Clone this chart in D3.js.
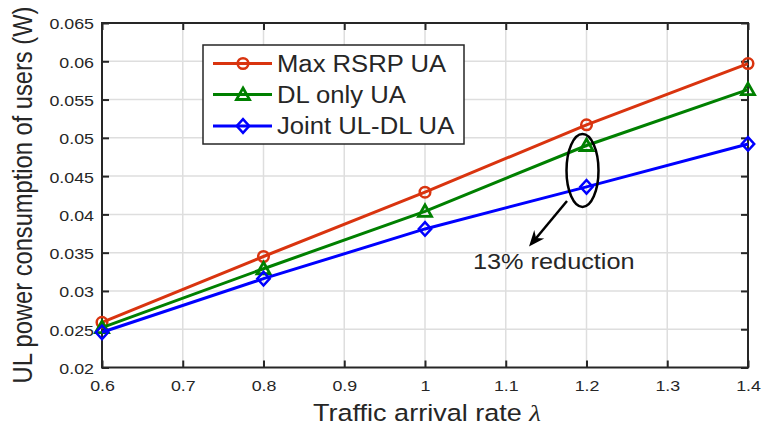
<!DOCTYPE html>
<html><head><meta charset="utf-8">
<script src="https://cdn.jsdelivr.net/npm/d3@7"></script>
<style>body{margin:0;background:#fff}svg{display:block}text{font-family:"Liberation Sans",Arial,sans-serif;fill:#262626}</style>
</head><body><svg id="c" width="763" height="429"></svg>
<script>
const lambdas = [0.6, 0.8, 1.0, 1.2, 1.4];
const maxRsrp = [0.0259, 0.0345, 0.0429, 0.0517, 0.0597];
const dlOnly  = [0.0252, 0.0329, 0.0404, 0.0490, 0.0563];
const jointUD = [0.0246, 0.0316, 0.0381, 0.0436, 0.0492];
const seriesNames = ["Max RSRP UA", "DL only UA", "Joint UL-DL UA"];
const xTicks = [0.6, 0.7, 0.8, 0.9, 1.0, 1.1, 1.2, 1.3, 1.4];
const yTicks = [0.02, 0.025, 0.03, 0.035, 0.04, 0.045, 0.05, 0.055, 0.06, 0.065];
const xTickLabels = ["0.6","0.7","0.8","0.9","1","1.1","1.2","1.3","1.4"];
const yTickLabels = ["0.02","0.025","0.03","0.035","0.04","0.045","0.05","0.055","0.06","0.065"];

const colors = ["#d9340f", "#008000", "#0000ff"];
const markers = ["circle", "triangle", "diamond"];
const S = 1.15; // horizontal text stretch

const svg = d3.select("#c");
const L = 102, R = 748, T = 23, B = 367.5;
const x = d3.scaleLinear().domain([0.6, 1.4]).range([L, R]);
const y = d3.scaleLinear().domain([0.02, 0.065]).range([B, T]);

// grid
const grid = svg.append("g").attr("stroke", "#dedede").attr("stroke-width", 1.5);
xTicks.slice(1, -1).forEach(v => grid.append("line").attr("x1", x(v)).attr("x2", x(v)).attr("y1", T).attr("y2", B));
yTicks.slice(1, -1).forEach(v => grid.append("line").attr("y1", y(v)).attr("y2", y(v)).attr("x1", L).attr("x2", R));

// axes
function styleAxis(g) {
  g.selectAll("path.domain").remove();
  g.selectAll("line").attr("stroke", "#262626").attr("stroke-width", 2);
  g.selectAll("text").style("font-size", "15.5px").attr("fill", "#262626");
}
const ax = svg.append("g").attr("transform", `translate(0,${B})`)
  .call(d3.axisBottom(x).tickValues(xTicks).tickFormat((d, i) => xTickLabels[i]).tickSize(-7).tickPadding(0));
styleAxis(ax);
ax.selectAll("text").attr("y", 24).attr("dy", null).attr("transform", `scale(${S},1)`);
const axT = svg.append("g").attr("transform", `translate(0,${T})`)
  .call(d3.axisTop(x).tickValues(xTicks).tickFormat("").tickSize(-7));
styleAxis(axT);
const ay = svg.append("g").attr("transform", `translate(${L},0)`)
  .call(d3.axisLeft(y).tickValues(yTicks).tickFormat((d, i) => yTickLabels[i]).tickSize(-7).tickPadding(0));
styleAxis(ay);
ay.selectAll("text").attr("x", -8 / S).attr("dy", "0.38em").attr("transform", `scale(${S},1)`);
const ayR = svg.append("g").attr("transform", `translate(${R},0)`)
  .call(d3.axisRight(y).tickValues(yTicks).tickFormat("").tickSize(-7));
styleAxis(ayR);
svg.append("rect").attr("x", L).attr("y", T).attr("width", R - L).attr("height", B - T)
  .attr("fill", "none").attr("stroke", "#262626").attr("stroke-width", 2);

// marker drawing
function drawMarker(g, type, cx, cy, color) {
  if (type === "circle") {
    g.append("circle").attr("cx", cx).attr("cy", cy).attr("r", 5.3)
      .attr("fill", "none").attr("stroke", color).attr("stroke-width", 2.5);
  } else if (type === "triangle") {
    g.append("path").attr("d", `M${cx},${cy - 6.5}L${cx + 6.5},${cy + 5}L${cx - 6.5},${cy + 5}Z`)
      .attr("fill", "none").attr("stroke", color).attr("stroke-width", 2.8).attr("stroke-linejoin", "miter");
  } else {
    g.append("path").attr("d", `M${cx},${cy - 6.8}L${cx + 6.2},${cy}L${cx},${cy + 6.8}L${cx - 6.2},${cy}Z`)
      .attr("fill", "none").attr("stroke", color).attr("stroke-width", 2.5);
  }
}

// series
const allSeries = [maxRsrp, dlOnly, jointUD];
const line = d3.line().x((d, i) => x(lambdas[i])).y(d => y(d));
allSeries.forEach((vals, k) => {
  const g = svg.append("g");
  g.append("path").attr("d", line(vals)).attr("fill", "none")
    .attr("stroke", colors[k]).attr("stroke-width", 3);
  vals.forEach((v, i) => drawMarker(g, markers[k], x(lambdas[i]), y(v), colors[k]));
});

// legend
const lg = svg.append("g");
lg.append("rect").attr("x", 203).attr("y", 45).attr("width", 261).attr("height", 99)
  .attr("fill", "#fff").attr("stroke", "#262626").attr("stroke-width", 1.5);
const rowY = [63.5, 94.5, 126];
seriesNames.forEach((name, k) => {
  lg.append("line").attr("x1", 213).attr("x2", 272).attr("y1", rowY[k]).attr("y2", rowY[k])
    .attr("stroke", colors[k]).attr("stroke-width", 3);
  drawMarker(lg, markers[k], 243, rowY[k], colors[k]);
  lg.append("text").attr("transform", `translate(277,${rowY[k] + 8.3}) scale(${S * 0.97},1)`)
    .style("font-size", "23px").attr("fill", "#000").text(name);
});

// axis labels
const xl = svg.append("text").attr("transform", `translate(427,421) scale(${S},1)`)
  .attr("text-anchor", "middle").style("font-size", "23.5px");
xl.append("tspan").text("Traffic arrival rate ");
xl.append("tspan").style("font-family", "'Liberation Serif',serif").style("font-style", "italic").text("λ");
svg.append("text").attr("transform", `translate(31.5,195) rotate(-90) scale(1,${S})`)
  .attr("text-anchor", "middle").style("font-size", "23.7px").text("UL power consumption of users (W)");

// annotation
svg.append("ellipse").attr("cx", x(1.2) - 4).attr("cy", 170.5).attr("rx", 16).attr("ry", 36.5)
  .attr("fill", "none").attr("stroke", "#000").attr("stroke-width", 2.5);
const ax0 = 567, ay0 = 201, ax1 = 529, ay1 = 246.5;
svg.append("line").attr("x1", ax0).attr("y1", ay0).attr("x2", ax1 + 6).attr("y2", ay1 - 7)
  .attr("stroke", "#000").attr("stroke-width", 2.5);
(function () {
  const ang = Math.atan2(ay1 - ay0, ax1 - ax0);
  const len = 16, w = 6.5, back = 11;
  const ux = Math.cos(ang), uy = Math.sin(ang), px = -uy, py = ux;
  const bx = ax1 - ux * len, by = ay1 - uy * len;
  const mx = ax1 - ux * back, my = ay1 - uy * back;
  svg.append("path").attr("d",
    `M${ax1},${ay1}L${bx + px * w},${by + py * w}L${mx},${my}L${bx - px * w},${by - py * w}Z`)
    .attr("fill", "#000");
})();
svg.append("text").attr("transform", `translate(473,269) scale(${S},1)`)
  .style("font-size", "22px").attr("fill", "#000").text("13% reduction");
</script></body></html>
